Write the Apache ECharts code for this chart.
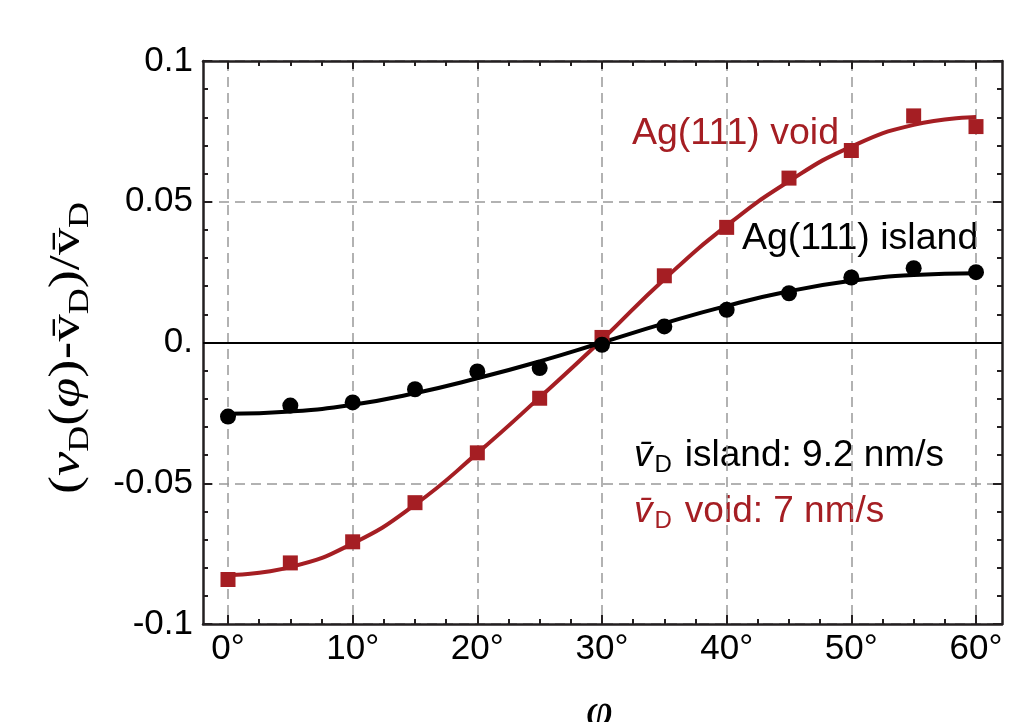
<!DOCTYPE html>
<html>
<head>
<meta charset="utf-8">
<title>Ag(111) drift velocity vs angle</title>
<script src="https://cdn.jsdelivr.net/npm/echarts@6/dist/echarts.min.js"></script>
<style>
    html, body { margin: 0; padding: 0; background: #fff; }
    #chart { width: 1036px; height: 722px; }
</style>
</head>
<body>
<div id="chart"></div>
<script>
// angle phi in degrees
var angles = [0, 5, 10, 15, 20, 25, 30, 35, 40, 45, 50, 55, 60];
// measured points
var voidPoints = [-0.0842, -0.0783, -0.0708, -0.0569, -0.0392, -0.0198, 0.0018, 0.0237, 0.0409, 0.0584, 0.0682, 0.0805, 0.0767];
var islandPoints = [-0.0263, -0.0224, -0.0213, -0.0166, -0.0103, -0.0091, -0.0008, 0.0057, 0.0116, 0.0175, 0.0231, 0.0264, 0.0250];
// fit curves at the same angles
var voidFit = [-0.0826, -0.0798, -0.0714, -0.0576, -0.0393, -0.0195, 0.0010, 0.0225, 0.0415, 0.0573, 0.0696, 0.0773, 0.0801];
var islandFit = [-0.0253, -0.0245, -0.0221, -0.0180, -0.0127, -0.0067, 0.0000, 0.0068, 0.0130, 0.0182, 0.0219, 0.0240, 0.0246];

var xTicks = [0, 10, 20, 30, 40, 50, 60];
var xTickLabels = ['0°', '10°', '20°', '30°', '40°', '50°', '60°'];
var yTicks = [-0.1, -0.05, 0, 0.05, 0.1];
var yTickLabels = ['-0.1', '-0.05', '0.', '0.05', '0.1'];

var RED = '#a51e23';
var DARK = '#231f20';
var SANS = 'Liberation Sans';
var SERIF = 'Liberation Serif';

function pairs(xs, ys) {
    return xs.map(function (x, i) { return [x, ys[i]]; });
}
function lookup(values, labels) {
    return function (v) {
        for (var i = 0; i < values.length; i++) {
            if (Math.abs(v - values[i]) < 1e-9) return labels[i];
        }
        return '';
    };
}

// measure text so that formula pieces can be laid out one after another
var mctx = document.createElement('canvas').getContext('2d');
function textWidth(t, font) {
    mctx.font = font;
    return mctx.measureText(t).width;
}
// pieces: {t, size, family, style, dy}; baseline at local y = 0
function runOfText(pieces, color) {
    var x = 0, kids = [];
    pieces.forEach(function (p) {
        var style = p.style || 'normal';
        var font = style + ' ' + p.size + 'px "' + p.family + '"';
        kids.push({
            type: 'text', x: x, y: (p.dy || 0) - 0.31 * p.size,
            style: {
                text: p.t, fill: p.color || color, font: font,
                textAlign: 'left', textVerticalAlign: 'middle', verticalAlign: 'middle'
            }
        });
        x += textWidth(p.t, font) + (p.gap || 0);
    });
    return { kids: kids, width: x };
}

function label(x, y, text, size, color, family, style) {
    return {
        type: 'text', x: x, y: y,
        style: {
            text: text, fill: color,
            font: (style || 'normal') + ' ' + size + 'px "' + family + '"',
            textAlign: 'left', textVerticalAlign: 'middle', verticalAlign: 'middle'
        }
    };
}

// y axis title (rotated, serif)
var yTitle = runOfText([
    { t: '(', size: 44, family: SERIF },
    { t: 'ν', size: 44, family: SERIF, style: 'italic' },
    { t: 'D', size: 29, family: SERIF, dy: 8 },
    { t: '(', size: 44, family: SERIF },
    { t: 'φ', size: 44, family: SERIF, style: 'italic' },
    { t: ')', size: 44, family: SERIF },
    { t: '-', size: 44, family: SANS },
    { t: 'v\u0304', size: 44, family: SERIF },
    { t: 'D', size: 29, family: SERIF, dy: 8 },
    { t: ')', size: 44, family: SERIF },
    { t: '/', size: 44, family: SERIF },
    { t: 'v\u0304', size: 44, family: SERIF },
    { t: 'D', size: 29, family: SERIF, dy: 8 }
], '#000');

var islandNote = runOfText([
    { t: 'v\u0304', size: 37, family: SANS, style: 'italic', gap: 2 },
    { t: 'D', size: 24, family: SANS, dy: 6, gap: 13 },
    { t: 'island: 9.2 nm/s', size: 37, family: SANS }
], '#000');
var voidNote = runOfText([
    { t: 'v\u0304', size: 37, family: SANS, style: 'italic', gap: 2 },
    { t: 'D', size: 24, family: SANS, dy: 6, gap: 13 },
    { t: 'void: 7 nm/s', size: 37, family: SANS }
], RED);

var tickStyle = { color: DARK, width: 2 };
var frameLine = { show: true, onZero: false, lineStyle: { color: DARK, width: 2.5 } };
var dashed = { show: true, lineStyle: { color: '#999', width: 1.5, type: [10, 6] } };

var chart = echarts.init(document.getElementById('chart'), null, { renderer: 'canvas' });
chart.setOption({
    animation: false,
    backgroundColor: '#fff',
    grid: [
        { left: 203, right: 34, top: 61, bottom: 98 },   // frame
        { left: 228, right: 60, top: 61, bottom: 98 }    // 0..60 deg
    ],
    xAxis: [
        { gridIndex: 0, type: 'value', min: -2, max: 62, position: 'bottom',
          axisLine: frameLine, axisTick: { show: false }, axisLabel: { show: false }, splitLine: { show: false } },
        { gridIndex: 0, type: 'value', min: -2, max: 62, position: 'top',
          axisLine: frameLine, axisTick: { show: false }, axisLabel: { show: false }, splitLine: { show: false } },
        { gridIndex: 1, type: 'value', min: 0, max: 60, interval: 10, position: 'bottom',
          axisLine: { show: false, onZero: false },
          axisTick: { show: true, inside: true, length: 9, lineStyle: tickStyle },
          minorTick: { show: true, splitNumber: 4, length: 5, lineStyle: tickStyle },
          axisLabel: { formatter: lookup(xTicks, xTickLabels), fontSize: 35, fontFamily: SANS, color: '#000', margin: 8 },
          splitLine: dashed },
        { gridIndex: 1, type: 'value', min: 0, max: 60, interval: 10, position: 'top',
          axisLine: { show: false, onZero: false },
          axisTick: { show: true, inside: true, length: 8, lineStyle: tickStyle },
          minorTick: { show: true, splitNumber: 4, length: 5, lineStyle: tickStyle },
          axisLabel: { show: false }, splitLine: { show: false } }
    ],
    yAxis: [
        { gridIndex: 0, type: 'value', min: -0.1, max: 0.1, interval: 0.05, position: 'left',
          axisLine: frameLine,
          axisTick: { show: true, inside: true, length: 9, lineStyle: tickStyle },
          minorTick: { show: true, splitNumber: 5, length: 5, lineStyle: tickStyle },
          axisLabel: { formatter: lookup(yTicks, yTickLabels), fontSize: 35, fontFamily: SANS, color: '#000', margin: 10 },
          splitLine: dashed },
        { gridIndex: 0, type: 'value', min: -0.1, max: 0.1, interval: 0.05, position: 'right',
          axisLine: frameLine,
          axisTick: { show: true, inside: true, length: 9, lineStyle: tickStyle },
          minorTick: { show: true, splitNumber: 5, length: 5, lineStyle: tickStyle },
          axisLabel: { show: false }, splitLine: { show: false } },
        { gridIndex: 1, type: 'value', min: -0.1, max: 0.1, show: false }
    ],
    series: [
        {   // zero line across the whole frame
            type: 'line', xAxisIndex: 0, yAxisIndex: 0, data: [], silent: true,
            markLine: {
                silent: true, symbol: 'none', label: { show: false },
                lineStyle: { color: '#000', type: 'solid', width: 2.2 },
                data: [{ yAxis: 0 }]
            }
        },
        {
            name: 'Ag(111) void fit', type: 'line', xAxisIndex: 2, yAxisIndex: 2,
            data: pairs(angles, voidFit), smooth: true, showSymbol: false,
            lineStyle: { color: RED, width: 4 }, z: 3
        },
        {
            name: 'Ag(111) island fit', type: 'line', xAxisIndex: 2, yAxisIndex: 2,
            data: pairs(angles, islandFit), smooth: true, showSymbol: false,
            lineStyle: { color: '#000', width: 4 }, z: 3
        },
        {
            name: 'Ag(111) void', type: 'scatter', xAxisIndex: 2, yAxisIndex: 2,
            data: pairs(angles, voidPoints), symbol: 'rect', symbolSize: 15,
            itemStyle: { color: RED, opacity: 1 }, z: 4
        },
        {
            name: 'Ag(111) island', type: 'scatter', xAxisIndex: 2, yAxisIndex: 2,
            data: pairs(angles, islandPoints), symbol: 'circle', symbolSize: 16,
            itemStyle: { color: '#000', opacity: 1 }, z: 4
        }
    ],
    graphic: [
        label(632, 134, 'Ag(111) void', 37.5, RED, SANS),
        label(742, 239, 'Ag(111) island', 37.5, '#000', SANS),
        { type: 'group', x: 634, y: 467, children: islandNote.kids },
        { type: 'group', x: 634, y: 523, children: voidNote.kids },
        { type: 'group', x: 81, y: 494, rotation: Math.PI / 2, scaleX: 292 / yTitle.width, children: yTitle.kids },
        label(586, 713, 'φ', 48, '#000', SERIF, 'italic')
    ]
});
</script>
</body>
</html>
